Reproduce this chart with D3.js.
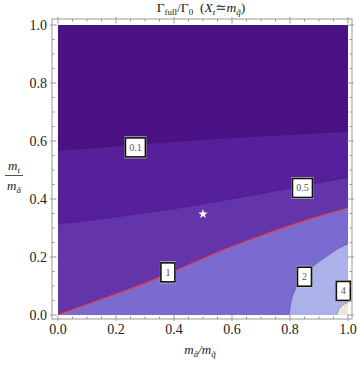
<!DOCTYPE html>
<html>
<head>
<meta charset="utf-8">
<script src="https://cdn.jsdelivr.net/npm/d3@7"></script>
<style>
  body { margin: 0; background: #fff; }
  text { font-family: "Liberation Serif", "DejaVu Serif", serif; }
</style>
</head>
<body>
<svg width="357" height="366"></svg>
<script>
// contour curves (x = m_a/m_q, y = m_t/m_a)
var c01x = [0, 0.2, 0.4, 0.6, 0.8, 1];
var c01y = [0.568, 0.582, 0.598, 0.611, 0.622, 0.633];

var c05x = [0, 0.2, 0.4, 0.6, 0.8, 1];
var c05y = [0.313, 0.338, 0.366, 0.400, 0.437, 0.475];

var c1x = [0, 0.1, 0.2, 0.3, 0.4, 0.5, 0.6, 0.7, 0.8, 0.9, 1];
var c1y = [0, 0.036, 0.072, 0.109, 0.151, 0.194, 0.236, 0.273, 0.308, 0.34, 0.369];

var c2x = [0.797, 0.803, 0.815, 0.835, 0.86, 0.89, 0.93, 0.97, 1];
var c2y = [0, 0.04, 0.08, 0.12, 0.15, 0.176, 0.204, 0.231, 0.245];

var c4x = [0.962, 0.968, 0.98, 1];
var c4y = [0, 0.018, 0.032, 0.042];

// contour labels
var labTxt = ["0.1", "0.5", "1", "2", "4"];
var labX = [0.267, 0.843, 0.379, 0.85, 0.984];
var labY = [0.578, 0.438, 0.147, 0.132, 0.083];

var star = [0.5, 0.348];
var tickVals = [0, 0.2, 0.4, 0.6, 0.8, 1];

var fills = ["#4b1286", "#56209a", "#6434aa", "#7b6bd1", "#aab2e9", "#efe6d3"];

var svg = d3.select("svg");
var x = d3.scaleLinear().domain([0, 1]).range([58, 348]);
var y = d3.scaleLinear().domain([0, 1]).range([315, 25]);

var frame = {l: 52, r: 352, t: 19, b: 319};

svg.append("clipPath").attr("id", "clip")
  .append("rect").attr("x", x(0)).attr("y", y(1))
  .attr("width", x(1) - x(0)).attr("height", y(0) - y(1));

var g = svg.append("g").attr("clip-path", "url(#clip)");

g.append("rect").attr("x", x(0)).attr("y", y(1))
  .attr("width", x(1) - x(0)).attr("height", y(0) - y(1))
  .attr("fill", fills[0]);

function pts(xs, ys) { return xs.map(function(v, i) { return [v, ys[i]]; }); }

var curves = [pts(c01x, c01y), pts(c05x, c05y), pts(c1x, c1y), pts(c2x, c2y), pts(c4x, c4y)];

var area = d3.area()
  .x(function(d) { return x(d[0]); })
  .y0(y(0))
  .y1(function(d) { return y(d[1]); })
  .curve(d3.curveMonotoneX);

var line = d3.line()
  .x(function(d) { return x(d[0]); })
  .y(function(d) { return y(d[1]); })
  .curve(d3.curveMonotoneX);

curves.forEach(function(c, i) {
  g.append("path").attr("d", area(c)).attr("fill", fills[i + 1]);
});
curves.forEach(function(c, i) {
  g.append("path").attr("d", line(c)).attr("fill", "none")
    .attr("stroke", i == 2 ? "#e8403f" : "#2a0a55")
    .attr("stroke-opacity", i == 2 ? 1 : 0.35)
    .attr("stroke-width", i == 2 ? 1.2 : 0.7);
});

// star
g.append("path")
  .attr("d", d3.symbol().type(d3.symbolStar).size(28)())
  .attr("transform", "translate(" + x(star[0]) + "," + y(star[1]) + ")")
  .attr("fill", "#fff");

// contour labels
labTxt.forEach(function(t, i) {
  var w = t.length > 1 ? 20 : 14, h = 19;
  var cx = x(labX[i]), cy = y(labY[i]);
  var lg = svg.append("g");
  lg.append("rect").attr("x", cx - w / 2 - 1).attr("y", cy - h / 2 - 1.5)
    .attr("width", w + 2).attr("height", h + 3).attr("fill", "#ccc");
  lg.append("rect").attr("x", cx - w / 2).attr("y", cy - h / 2)
    .attr("width", w).attr("height", h)
    .attr("fill", "#fff").attr("stroke", "#111").attr("stroke-width", 1.6);
  lg.append("text").attr("x", cx).attr("y", cy + 3.5)
    .attr("text-anchor", "middle").attr("font-size", 10).attr("fill", "#555")
    .text(t);
});

// frame
svg.append("rect").attr("x", frame.l).attr("y", frame.t)
  .attr("width", frame.r - frame.l).attr("height", frame.b - frame.t)
  .attr("fill", "none").attr("stroke", "#999").attr("stroke-width", 1);

var minor = d3.range(0, 1.0001, 0.05).filter(function(v) { return Math.abs(v * 5 - Math.round(v * 5)) > 1e-6; });
var tk = svg.append("g").attr("stroke", "#999").attr("stroke-width", 1);
function ticks(vals, len, out) {
  vals.forEach(function(v) {
    tk.append("line").attr("x1", x(v)).attr("x2", x(v)).attr("y1", frame.b + out).attr("y2", frame.b - len);
    tk.append("line").attr("x1", x(v)).attr("x2", x(v)).attr("y1", frame.t - out).attr("y2", frame.t + len);
    tk.append("line").attr("y1", y(v)).attr("y2", y(v)).attr("x1", frame.l - out).attr("x2", frame.l + len);
    tk.append("line").attr("y1", y(v)).attr("y2", y(v)).attr("x1", frame.r + out).attr("x2", frame.r - len);
  });
}
ticks(tickVals, 4.5, 2);
ticks(minor, 2.5, 0);

var fmt = d3.format(".1f");
svg.append("g").selectAll("text").data(tickVals).enter().append("text")
  .attr("x", function(d) { return x(d); }).attr("y", 334)
  .attr("text-anchor", "middle").attr("font-size", 14).attr("fill", "#222")
  .text(fmt);
svg.append("g").selectAll("text").data(tickVals).enter().append("text")
  .attr("x", 47).attr("y", function(d) { return y(d) + 5; })
  .attr("text-anchor", "end").attr("font-size", 14).attr("fill", "#222")
  .text(fmt);

// title
var title = svg.append("text").attr("x", 201).attr("y", 12)
  .attr("text-anchor", "middle").attr("font-size", 13.5).attr("fill", "#222")
  .style("white-space", "pre");
title.append("tspan").text("Γ");
title.append("tspan").attr("dy", 3).attr("font-size", 9).text("full");
title.append("tspan").attr("dy", -3).text("/Γ");
title.append("tspan").attr("dy", 3).attr("font-size", 9).text("0");
title.append("tspan").attr("dy", -3).text("  (");
title.append("tspan").attr("font-style", "italic").text("X");
title.append("tspan").attr("dy", 3).attr("font-size", 9).attr("font-style", "italic").text("t");
title.append("tspan").attr("dy", -3).text("≃");
title.append("tspan").attr("font-style", "italic").text("m");
title.append("tspan").attr("dy", 3).attr("font-size", 9).attr("font-style", "italic").text("q\u0303");
title.append("tspan").attr("dy", -3).text(")");

// x label
var xl = svg.append("text").attr("x", 200).attr("y", 354)
  .attr("text-anchor", "middle").attr("font-size", 13).attr("fill", "#222").attr("font-style", "italic");
xl.append("tspan").text("m");
xl.append("tspan").attr("dy", 3).attr("font-size", 9).text("ã");
xl.append("tspan").attr("dy", -3).text("/m");
xl.append("tspan").attr("dy", 3).attr("font-size", 9).text("q\u0303");

// y label (fraction)
var yn = svg.append("text").attr("x", 14).attr("y", 170)
  .attr("text-anchor", "middle").attr("font-size", 13).attr("fill", "#222").attr("font-style", "italic");
yn.append("tspan").text("m");
yn.append("tspan").attr("dy", 3).attr("font-size", 9).text("t");
svg.append("line").attr("x1", 5).attr("x2", 23).attr("y1", 175.5).attr("y2", 175.5)
  .attr("stroke", "#222").attr("stroke-width", 0.8);
var yd = svg.append("text").attr("x", 14).attr("y", 190)
  .attr("text-anchor", "middle").attr("font-size", 13).attr("fill", "#222").attr("font-style", "italic");
yd.append("tspan").text("m");
yd.append("tspan").attr("dy", 3).attr("font-size", 9).text("ã");
</script>
</body>
</html>
